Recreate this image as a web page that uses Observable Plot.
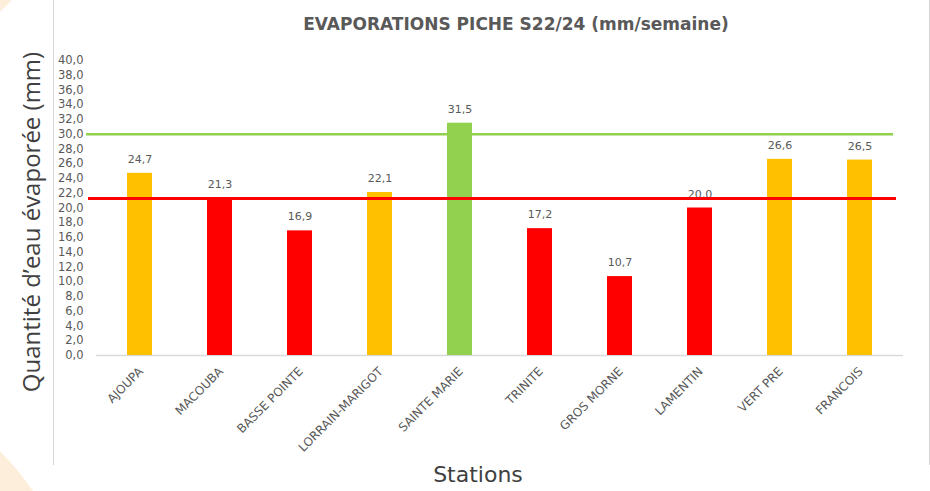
<!DOCTYPE html>
<html>
<head>
<meta charset="utf-8">
<script src="https://cdn.jsdelivr.net/npm/d3@7"></script>
<script src="https://cdn.jsdelivr.net/npm/@observablehq/plot@0.6"></script>
<style>
  html, body { margin: 0; padding: 0; background: #fff; }
  #wrap { position: relative; width: 930px; height: 491px; overflow: hidden; font-family: "DejaVu Sans", sans-serif; }
  .peach { position: absolute; border-radius: 50%; background: #fdeedc; }
  #panel { position: absolute; left: 53px; top: 0; width: 875px; height: 465px; background: #fff; border-left: 1px solid #d6d6d6; border-right: 1px solid #d6d6d6; }
  #title { position: absolute; left: 0; width: 1032px; top: 14px; text-align: center; font-weight: bold; font-size: 17px; line-height: 20px; color: #595959; }
  #ylab { position: absolute; left: 30px; top: 222px; transform: translate(-50%, -50%) rotate(-90deg); white-space: nowrap; font-family: "Open Sans", sans-serif; font-size: 24px; color: #404040; }
  #xlab { position: absolute; left: 478px; top: 462px; transform: translateX(-50%); font-size: 22px; line-height: 26px; color: #404040; }
  #chart { position: absolute; left: 0; top: 0; }
</style>
</head>
<body>
<div id="wrap">
  <div class="peach" style="left:-482px; top:368px; width:564px; height:564px;"></div>
  <div class="peach" style="left:-250px; top:-250px; width:300px; height:300px;"></div>
  <div id="panel"></div>
  <div id="chart"></div>
  <div id="title">EVAPORATIONS PICHE S22/24 (mm/semaine)</div>
  <div id="ylab">Quantité d’eau évaporée (mm)</div>
  <div id="xlab">Stations</div>
</div>
<script>
const stations = ["AJOUPA", "MACOUBA", "BASSE POINTE", "LORRAIN-MARIGOT", "SAINTE MARIE", "TRINITE", "GROS MORNE", "LAMENTIN", "VERT PRE", "FRANCOIS"];
const values = [24.7, 21.3, 16.9, 22.1, 31.5, 17.2, 10.7, 20.0, 26.6, 26.5];
const classes = ["moyen", "faible", "faible", "moyen", "fort", "faible", "faible", "faible", "moyen", "moyen"];
const classNames = ["faible", "moyen", "fort"];
const classColors = ["#ff0000", "#ffc000", "#92d050"];
const yTicks = d3.range(0, 42, 2);
const greenThreshold = [30];
const redThreshold = [21.3];

const data = stations.map((s, i) => ({station: s, value: values[i], cls: classes[i]}));
const fmt = v => v.toFixed(1).replace(".", ",");

const chart = Plot.plot({
  width: 930,
  height: 491,
  marginLeft: 96,
  marginRight: 27,
  marginTop: 60,
  marginBottom: 136,
  style: {background: "transparent", fontFamily: "DejaVu Sans, sans-serif"},
  x: {domain: stations, paddingInner: 0.69, paddingOuter: 0.345, label: null},
  y: {domain: [0, 40], label: null},
  color: {domain: classNames, range: classColors},
  marks: [
    Plot.axisY({ticks: yTicks, tickFormat: fmt, tickSize: 0, tickPadding: 13, fontSize: 11.5, fill: "#595959", label: null}),
    Plot.axisX({tickSize: 0, tickPadding: 14, tickRotate: -45, fontSize: 12, fill: "#595959", label: null, dx: 1}),
    Plot.ruleY([0], {stroke: "#d9d9d9", strokeWidth: 1.5}),
    Plot.barY(data, {x: "station", y: "value", fill: "cls"}),
    Plot.text(data, {x: "station", y: "value", text: d => fmt(d.value), dy: -14, fontSize: 11, fill: "#595959"}),
    Plot.ruleY(greenThreshold, {stroke: "#92d050", strokeWidth: 2.5, insetLeft: -10, insetRight: 10}),
    Plot.ruleY(redThreshold, {stroke: "#ff0000", strokeWidth: 3, insetLeft: -8, insetRight: 7})
  ]
});
document.getElementById("chart").appendChild(chart);
</script>
</body>
</html>
